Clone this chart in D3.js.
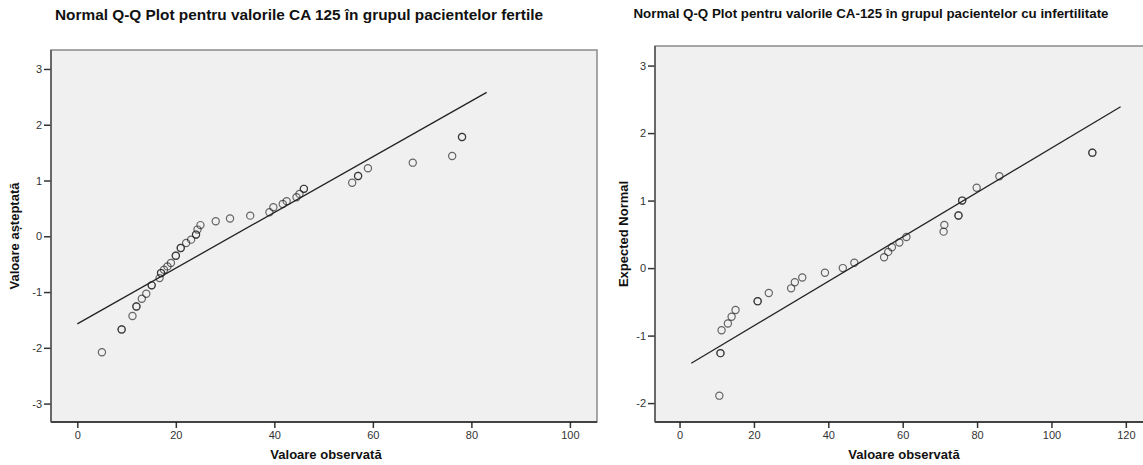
<!DOCTYPE html>
<html>
<head>
<meta charset="utf-8">
<script src="https://cdn.jsdelivr.net/npm/d3@7"></script>
<style>
  body { margin: 0; background: #fff; }
  svg text { font-family: Arial, "Liberation Sans", sans-serif; }
</style>
</head>
<body>
<svg id="chart" width="1143" height="465"></svg>
<script>
// Left panel: fertile group (observed value, expected normal); tied values appear twice
const fertileObserved = [5, 9, 9, 11.2, 12, 12, 13.1, 14, 15.1, 15.1, 16.7, 17, 17, 17.6, 18.3, 19, 20, 20, 21, 21, 22.1, 23.1, 24.1, 24.1, 24.4, 25,
    28.1, 31, 35.1, 39, 39.8, 41.7, 42.5, 44.5, 45.1, 46, 46, 55.8, 57, 57, 59, 68.1, 76.1, 78.1, 78.1];
const fertileExpected = [-2.08, -1.67, -1.67, -1.43, -1.26, -1.26, -1.12, -1.03, -0.88, -0.88, -0.75, -0.66, -0.66, -0.6, -0.54, -0.48, -0.35, -0.35, -0.21, -0.21, -0.12, -0.06, 0.03, 0.03, 0.12, 0.2,
    0.27, 0.32, 0.37, 0.43, 0.52, 0.58, 0.63, 0.7, 0.76, 0.85, 0.85, 0.96, 1.08, 1.08, 1.22, 1.32, 1.44, 1.78, 1.78];
const fertileLineX = [0, 83.1];
const fertileLineY = [-1.57, 2.58];

// Right panel: infertility group
const infertileObserved = [10.7, 11, 11, 11.3, 13, 14, 15.05, 21, 21, 24, 30, 31, 33, 39.1, 43.9, 47, 55, 56.1, 57.1, 59.1, 61,
    71, 71.2, 75, 75, 76, 76, 79.9, 86, 111, 111];
const infertileExpected = [-1.89, -1.26, -1.26, -0.92, -0.82, -0.72, -0.62, -0.49, -0.49, -0.37, -0.3, -0.21, -0.14, -0.07, 0.0, 0.08, 0.16, 0.24, 0.31, 0.38, 0.46,
    0.54, 0.64, 0.78, 0.78, 1.0, 1.0, 1.19, 1.36, 1.71, 1.71];
const infertileLineX = [3.15, 118.6];
const infertileLineY = [-1.41, 2.39];

const leftXTicks = [0, 20, 40, 60, 80, 100];
const leftYTicks = [-3, -2, -1, 0, 1, 2, 3];
const rightXTicks = [0, 20, 40, 60, 80, 100, 120];
const rightYTicks = [-2, -1, 0, 1, 2, 3];

const svg = d3.select('#chart');
const fmt = d => String(d); // plain hyphen minus, no decimals

function drawPanel(cfg) {
    const g = svg.append('g');
    const x = d3.scaleLinear().domain(cfg.xDomain).range([cfg.left, cfg.right]);
    const y = d3.scaleLinear().domain(cfg.yDomain).range([cfg.bottom, cfg.top]);

    // title
    g.append('text')
        .attr('x', cfg.titleX)
        .attr('y', cfg.titleY)
        .attr('text-anchor', 'middle')
        .attr('textLength', cfg.titleWidth)
        .attr('lengthAdjust', 'spacingAndGlyphs')
        .style('font-size', cfg.titleSize)
        .style('font-weight', 'bold')
        .attr('fill', '#111')
        .text(cfg.title);

    // plot background
    g.append('rect')
        .attr('x', cfg.left)
        .attr('y', cfg.top)
        .attr('width', cfg.right - cfg.left)
        .attr('height', cfg.bottom - cfg.top)
        .attr('fill', '#f0f0f0')
        .attr('stroke', '#8a8a8a')
        .attr('stroke-width', 1.5);

    const clipId = 'clip-' + cfg.id;
    g.append('clipPath').attr('id', clipId)
        .append('rect')
        .attr('x', cfg.left)
        .attr('y', cfg.top)
        .attr('width', cfg.right - cfg.left)
        .attr('height', cfg.bottom - cfg.top);

    // axes
    const xAxis = d3.axisBottom(x).tickValues(cfg.xTicks).tickFormat(fmt).tickSize(6).tickSizeOuter(0).tickPadding(3);
    const yAxis = d3.axisLeft(y).tickValues(cfg.yTicks).tickFormat(fmt).tickSize(7).tickSizeOuter(0).tickPadding(2);

    const gx = g.append('g')
        .attr('transform', `translate(0,${cfg.bottom})`)
        .call(xAxis);
    const gy = g.append('g')
        .attr('transform', `translate(${cfg.left},0)`)
        .call(yAxis);

    [gx, gy].forEach(ax => {
        ax.select('.domain').remove();
        ax.selectAll('.tick line').attr('stroke', '#333').attr('stroke-width', 1.5);
        ax.selectAll('.tick text')
            .attr('fill', '#333')
            .style('font-size', '11px')
            .style('font-family', 'Arial, "Liberation Sans", sans-serif');
    });

    g.append('line')
        .attr('x1', cfg.left).attr('x2', cfg.right)
        .attr('y1', cfg.bottom).attr('y2', cfg.bottom)
        .attr('stroke', '#222').attr('stroke-width', 1.5);
    g.append('line')
        .attr('x1', cfg.left).attr('x2', cfg.left)
        .attr('y1', cfg.top).attr('y2', cfg.bottom)
        .attr('stroke', '#555').attr('stroke-width', 1.5);

    // axis labels
    g.append('text')
        .attr('x', cfg.xLabelX)
        .attr('y', 459)
        .attr('text-anchor', 'middle')
        .style('font-size', '13px')
        .style('font-weight', 'bold')
        .attr('fill', '#111')
        .text('Valoare observată');

    g.append('text')
        .attr('transform', `translate(${cfg.yLabelX},${(cfg.top + cfg.bottom) / 2}) rotate(-90)`)
        .attr('text-anchor', 'middle')
        .style('font-size', '13px')
        .style('font-weight', 'bold')
        .attr('fill', '#111')
        .text(cfg.yLabel);

    const plot = g.append('g').attr('clip-path', `url(#${clipId})`);

    // reference line
    const line = d3.line().x(d => x(d[0])).y(d => y(d[1]));
    plot.append('path')
        .datum(d3.zip(cfg.lineX, cfg.lineY))
        .attr('d', line)
        .attr('fill', 'none')
        .attr('stroke', '#222')
        .attr('stroke-width', 1.3);

    // points (semi-transparent stroke so tied values look darker)
    plot.selectAll('circle')
        .data(d3.zip(cfg.observed, cfg.expected))
        .enter()
        .append('circle')
        .attr('cx', d => x(d[0]))
        .attr('cy', d => y(d[1]))
        .attr('r', 3.6)
        .attr('fill', 'none')
        .attr('stroke', '#222')
        .attr('stroke-opacity', 0.68)
        .attr('stroke-width', 1.2);
}

drawPanel({
    id: 'left',
    title: 'Normal Q-Q Plot pentru valorile CA 125 în grupul pacientelor fertile',
    titleX: 299, titleY: 20, titleSize: '14px', titleWidth: 488,
    left: 51, right: 597, top: 50, bottom: 422,
    xDomain: [-5.34, 105.5],
    yDomain: [-3.33, 3.34],
    xTicks: leftXTicks, yTicks: leftYTicks,
    observed: fertileObserved, expected: fertileExpected,
    lineX: fertileLineX, lineY: fertileLineY,
    xLabelX: 326, yLabelX: 19,
    yLabel: 'Valoare așteptată'
});

drawPanel({
    id: 'right',
    title: 'Normal Q-Q Plot pentru valorile CA-125 în grupul pacientelor cu infertilitate',
    titleX: 871, titleY: 18, titleSize: '13px', titleWidth: 475,
    left: 655, right: 1150, top: 46, bottom: 422,
    xDomain: [-6.6, 126.5],
    yDomain: [-2.28, 3.29],
    xTicks: rightXTicks, yTicks: rightYTicks,
    observed: infertileObserved, expected: infertileExpected,
    lineX: infertileLineX, lineY: infertileLineY,
    xLabelX: 904, yLabelX: 628,
    yLabel: 'Expected Normal'
});
</script>
</body>
</html>
